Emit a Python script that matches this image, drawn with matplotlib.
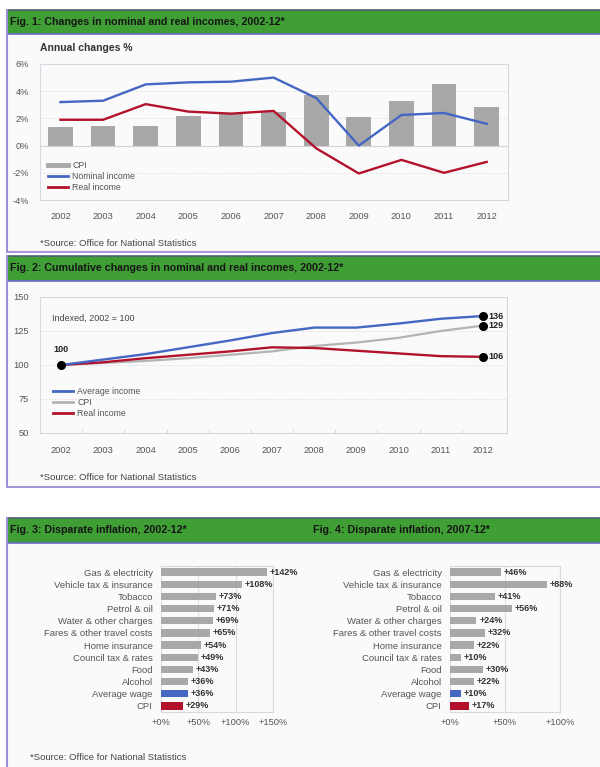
import matplotlib
matplotlib.use("Agg")
import matplotlib.pyplot as plt
from matplotlib.patches import Rectangle
from matplotlib.lines import Line2D

# --- data ---
years = [2002, 2003, 2004, 2005, 2006, 2007, 2008, 2009, 2010, 2011, 2012]

# Fig 1: annual changes, %
cpi_annual = [1.35, 1.45, 1.45, 2.2, 2.3, 2.5, 3.7, 2.1, 3.3, 4.5, 2.85]
nominal_annual = [3.2, 3.3, 4.5, 4.65, 4.7, 5.0, 3.5, 0.0, 2.25, 2.4, 1.6]
real_annual = [1.9, 1.9, 3.05, 2.5, 2.35, 2.55, -0.2, -2.05, -1.05, -2.0, -1.2]

# Fig 2: cumulative index, 2002 = 100
avg_index = [100, 104, 108, 113, 118, 123.5, 127.5, 127.5, 130.5, 134, 136]
cpi_index = [100, 101.5, 103, 105, 107.5, 110, 114, 116.5, 120, 125, 129]
real_index = [100, 102, 105, 107.5, 110, 113, 112.5, 110.5, 108.5, 106.5, 106]

# Fig 3 / Fig 4: price rises by category
categories = ["Gas & electricity", "Vehicle tax & insurance", "Tobacco",
              "Petrol & oil", "Water & other charges", "Fares & other travel costs",
              "Home insurance", "Council tax & rates", "Food", "Alcohol",
              "Average wage", "CPI"]
rise_2002_12 = [142, 108, 73, 71, 69, 65, 54, 49, 43, 36, 36, 29]
rise_2007_12 = [46, 88, 41, 56, 24, 32, 22, 10, 30, 22, 10, 17]

W, H = 600, 767
GREEN = "#3f9f35"
BG = "#fbfafa"
GREY_BAR = "#a8a8a8"
BLUE = "#4467c4"
RED = "#b3122c"
TICK = "#555555"
FRAME = "#d8d8e2"

NARROW = ["Liberation Sans Narrow", "Liberation Sans", "DejaVu Sans"]
plt.rcParams["font.family"] = ["Liberation Sans", "DejaVu Sans"]

fig = plt.figure(figsize=(W / 100, H / 100), dpi=100)
fig.patch.set_facecolor("white")


def px_axes(x0, y0, x1, y1, **kw):
    return fig.add_axes([x0 / W, 1 - y1 / H, (x1 - x0) / W, (y1 - y0) / H], **kw)


# background layer in pixel coordinates
bg = px_axes(0, 0, W, H)
bg.set_xlim(0, W)
bg.set_ylim(H, 0)
bg.axis("off")


def panel(y_top, y_bottom, y_bar_bottom, bottom_line=True):
    bg.add_patch(Rectangle((7, y_top), W - 7, y_bottom - y_top, color=BG, lw=0, zorder=0))
    bg.add_patch(Rectangle((7, y_top), W - 7, y_bar_bottom - y_top, color=GREEN, lw=0, zorder=1))
    bg.plot([7, W], [y_top, y_top], color="#4d5f70", lw=1.2, zorder=2)
    bg.plot([7, W], [y_bar_bottom, y_bar_bottom], color="#6f68c8", lw=1.2, zorder=2)
    bg.plot([7, 7], [y_top, y_bottom], color="#9a8fd6", lw=1.5, zorder=2)
    if bottom_line:
        bg.plot([7, W], [y_bottom, y_bottom], color="#a597d8", lw=1.5, zorder=2)


def bar_title(x, y, s):
    bg.text(x, y, s, fontsize=7.7, fontweight="bold", family=NARROW,
            color="#161616", va="center", ha="left", zorder=3)


def source(x, y):
    bg.text(x, y, "*Source: Office for National Statistics", fontsize=6.8,
            color="#444444", va="center", ha="left", zorder=3)


panel(10, 252, 34)
panel(256, 487, 281)
panel(518, H + 2, 543, bottom_line=False)
bar_title(10, 22, "Fig. 1: Changes in nominal and real incomes, 2002-12*")
bar_title(10, 268, "Fig. 2: Cumulative changes in nominal and real incomes, 2002-12*")
bar_title(10, 530, "Fig. 3: Disparate inflation, 2002-12*")
bar_title(313, 530, "Fig. 4: Disparate inflation, 2007-12*")
bg.text(40, 48, "Annual changes %", fontsize=7.5, fontweight="bold",
        color="#333333", va="center", ha="left", zorder=3)
source(40, 243)
source(40, 477)
source(30, 757)

xs = list(range(len(years)))


def style_frame(ax):
    ax.set_facecolor("none")
    for sp in ax.spines.values():
        sp.set_color(FRAME)
        sp.set_linewidth(0.8)
    ax.tick_params(length=0, labelsize=6.7, labelcolor=TICK)


# --- Fig 1 ---
ax1 = px_axes(40, 64, 508, 200)
style_frame(ax1)
ax1.bar(xs, cpi_annual, width=0.58, color=GREY_BAR, zorder=2)
ax1.plot(xs, nominal_annual, color=BLUE, lw=1.7, zorder=3)
ax1.plot(xs, real_annual, color=RED, lw=1.7, zorder=3)
for v in [4, 2, -2]:
    ax1.axhline(v, color="#d2d2da", lw=0.7, ls=(0, (1, 2)), zorder=1)
ax1.axhline(0, color="#d2d2da", lw=0.8, zorder=1)
ax1.set_xlim(-0.48, 10.5)
ax1.set_ylim(-4, 6)
ax1.set_yticks(range(-4, 7, 2))
ax1.set_yticklabels([f"{v}%" for v in range(-4, 7, 2)])
ax1.set_xticks(xs)
ax1.set_xticklabels(years)
ax1.tick_params(axis="x", pad=8.5)
ax1.tick_params(axis="y", pad=8)
h1 = [Line2D([], [], color=GREY_BAR, lw=3.5),
      Line2D([], [], color=BLUE, lw=2),
      Line2D([], [], color=RED, lw=2)]
ax1.legend(h1, ["CPI", "Nominal income", "Real income"], loc="lower left",
           bbox_to_anchor=(0.0, 0.0), frameon=False, fontsize=6.3,
           handlelength=2.3, handletextpad=0.5, labelspacing=0.25,
           labelcolor="#555555")

# --- Fig 2 ---
ax2 = px_axes(40, 297, 507, 433)
style_frame(ax2)
ax2.plot(xs, cpi_index, color="#b4b4b4", lw=1.6, zorder=2)
ax2.plot(xs, real_index, color=RED, lw=1.7, zorder=3)
ax2.plot(xs, avg_index, color=BLUE, lw=1.7, zorder=4)
for v in [125, 100, 75]:
    ax2.axhline(v, color="#d2d2da", lw=0.7, ls=(0, (1, 2)), zorder=1)
ax2.set_xlim(-0.5, 10.57)
ax2.set_ylim(50, 150)
ax2.set_yticks(range(50, 151, 25))
ax2.set_xticks(xs)
ax2.set_xticklabels(years)
ax2.set_xticks([x + 0.5 for x in xs[:-1]], minor=True)
ax2.tick_params(axis="x", which="minor", length=3, color="#cfcfd8", direction="in")
ax2.tick_params(axis="x", pad=9.5)
ax2.tick_params(axis="y", pad=8)
ax2.plot([xs[0]], [avg_index[0]], "o", color="black", ms=5.5, zorder=5)
ax2.annotate("100", (xs[0], avg_index[0]), xytext=(0, 8), textcoords="offset points",
             ha="center", va="bottom", fontsize=6.5, fontweight="bold", color="#222222")
for series in [avg_index, cpi_index, real_index]:
    ax2.plot([xs[-1]], [series[-1]], "o", color="black", ms=5.5, zorder=5, clip_on=False)
    ax2.annotate(f"{series[-1]:g}", (xs[-1], series[-1]), xytext=(4, 0),
                 textcoords="offset points", ha="left", va="center",
                 fontsize=6.5, fontweight="bold", color="#222222")
ax2.text(0.026, 0.845, "Indexed, 2002 = 100", transform=ax2.transAxes,
         fontsize=6.5, color="#444444", va="center")
h2 = [Line2D([], [], color=BLUE, lw=2),
      Line2D([], [], color="#b4b4b4", lw=2),
      Line2D([], [], color=RED, lw=2)]
ax2.legend(h2, ["Average income", "CPI", "Real income"], loc="lower left",
           bbox_to_anchor=(0.01, 0.05), frameon=False, fontsize=6.3,
           handlelength=2.3, handletextpad=0.5, labelspacing=0.25,
           labelcolor="#555555")


# --- Fig 3 and Fig 4 ---
def inflation_bars(ax, values, xmax, ticks):
    style_frame(ax)
    colors = [GREY_BAR] * (len(values) - 2) + [BLUE, RED]
    rows = list(range(len(values)))
    ax.barh(rows, values, height=0.6, color=colors, zorder=2)
    for r, v in zip(rows, values):
        ax.text(v + xmax * 0.025, r, f"+{v}%", va="center", ha="left",
                fontsize=6.5, fontweight="bold", color="#333333", zorder=3)
    ax.set_xlim(0, xmax)
    ax.set_ylim(len(values) - 0.5, -0.5)
    ax.set_xticks(ticks)
    ax.set_xticklabels([f"+{t}%" for t in ticks])
    ax.set_yticks(rows)
    ax.set_yticklabels(categories, fontsize=6.8)
    ax.xaxis.grid(True, color="#dcdce4", lw=0.8, zorder=0)
    ax.spines["left"].set_visible(False)
    ax.tick_params(axis="x", pad=4)
    ax.tick_params(axis="y", pad=6)


ax3 = px_axes(161, 566, 273, 712)
inflation_bars(ax3, rise_2002_12, 150, [0, 50, 100, 150])
ax4 = px_axes(450, 566, 560, 712)
inflation_bars(ax4, rise_2007_12, 100, [0, 50, 100])

fig.savefig("out.png", dpi=100)
